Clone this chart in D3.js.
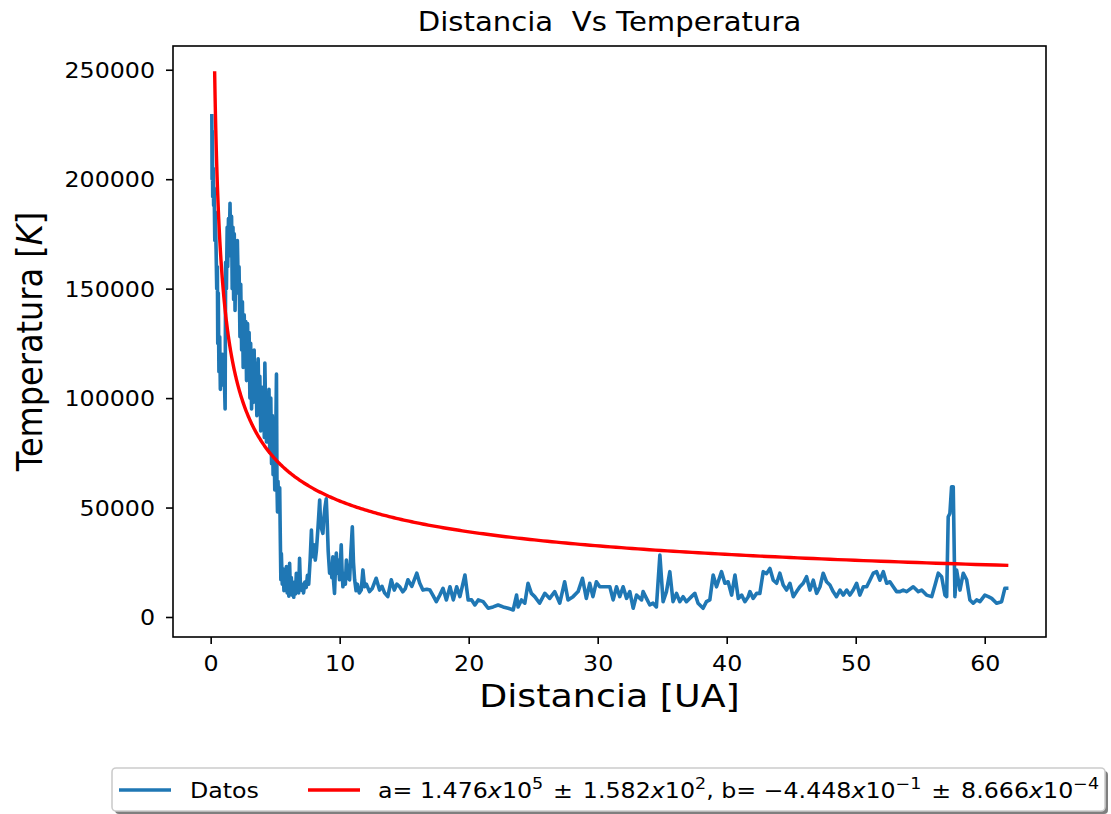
<!DOCTYPE html>
<html>
<head>
<meta charset="UTF-8">
<title>Distancia Vs Temperatura</title>
<script src="https://d3js.org/d3.v7.min.js"></script>
<style>
  body { margin: 0; background: #fff; }
  text { font-family: "DejaVu Sans", sans-serif; fill: #000; white-space: pre; }
</style>
</head>
<body>
<div id="chart"></div>
<script>
// distance [UA] and temperature [K]
var distUA = [
  0.09,0.11,0.13,0.16,0.20,0.23,0.27,0.32,0.36,0.42,0.47,0.52,0.55,0.59,0.64,0.70,0.75,0.80,0.86,0.92,
  0.98,1.05,1.12,1.16,1.22,1.28,1.32,1.38,1.44,1.50,1.56,1.62,1.67,1.73,1.78,1.83,1.89,1.95,2.01,2.07,
  2.14,2.20,2.27,2.33,2.40,2.46,2.52,2.60,2.66,2.72,2.78,2.86,2.92,2.98,3.04,3.10,3.17,3.24,3.30,3.37,
  3.42,3.50,3.58,3.68,3.74,3.81,3.88,3.95,4.02,4.10,4.16,4.20,4.26,4.33,4.40,4.46,4.52,4.58,4.66,4.72,
  4.78,4.84,4.90,4.97,5.04,5.10,5.14,5.18,5.22,5.28,5.35,5.40,5.44,5.48,5.55,5.61,5.68,5.75,5.81,5.87,
  5.93,5.99,6.06,6.12,6.18,6.25,6.32,6.38,6.44,6.50,6.57,6.64,6.70,6.76,6.82,6.89,6.96,7.03,7.10,7.20,
  7.30,7.41,7.50,7.60,7.71,7.81,7.87,7.93,8.01,8.11,8.19,8.31,8.45,8.51,8.61,8.70,8.77,8.86,8.96,9.03,
  9.11,9.22,9.31,9.39,9.47,9.53,9.60,9.67,9.74,9.81,9.89,9.99,10.06,10.12,10.18,10.25,10.37,10.44,10.52,10.62,
  10.77,10.87,10.98,11.07,11.16,11.27,11.37,11.52,11.67,11.80,11.93,12.07,12.31,12.52,12.83,13.09,13.28,13.48,13.73,14.00,
  14.23,14.43,14.65,14.89,15.09,15.29,15.59,15.98,16.20,16.45,16.75,17.00,17.22,17.49,17.76,18.01,18.27,18.55,18.81,19.07,
  19.32,19.71,19.96,20.23,20.48,20.74,21.12,21.51,21.89,22.28,22.67,23.06,23.45,23.71,23.83,24.09,24.35,24.60,24.86,25.12,
  25.50,25.90,26.28,26.67,27.06,27.44,27.70,28.09,28.48,28.82,29.12,29.38,29.63,29.90,30.16,30.94,31.20,31.46,31.71,31.97,
  32.24,32.49,32.75,33.01,33.40,33.52,33.78,34.04,34.29,34.55,34.82,35.07,35.33,35.59,35.84,36.11,36.36,36.62,36.88,37.27,
  37.53,37.78,38.17,38.43,38.69,38.95,39.21,39.60,39.86,40.11,40.38,40.64,40.90,41.16,41.41,41.67,41.80,42.05,42.32,42.57,
  42.83,43.09,43.35,43.61,43.87,44.12,44.38,44.64,44.90,45.16,45.42,45.67,45.93,46.19,46.45,46.71,46.97,47.23,47.48,47.74,
  48.00,48.25,48.51,48.78,49.03,49.30,49.55,49.81,50.07,50.32,50.59,50.85,51.10,51.36,51.62,51.87,52.14,52.40,52.65,52.91,
  53.17,53.43,53.68,53.95,54.46,54.85,55.11,55.49,55.89,56.15,56.40,56.66,56.92,57.05,57.17,57.30,57.43,57.56,57.69,57.82,
  58.08,58.34,58.60,58.85,59.11,59.37,59.63,60.01,60.28,60.54,60.92,61.31,61.56,61.70
];
var tempK = [
  229000,200000,222000,192000,205000,188000,196000,172000,185000,168000,150000,160000,125000,148000,112000,128000,104000,118000,108000,120000,
  106000,112000,95000,162000,150000,178000,160000,182000,170000,189000,165000,183000,150000,178000,145000,175000,140000,168000,148000,172000,
  150000,160000,128000,152000,122000,144000,114000,138000,118000,135000,108000,134000,112000,130000,100000,125000,95000,120000,98000,122000,
  102000,116000,92000,118000,96000,110000,85000,105000,88000,100000,82000,116000,95000,80000,100000,86000,104000,75000,100000,70000,
  92000,65000,85000,58000,80000,111000,60000,48000,62000,50000,59000,35000,17000,29000,15000,22000,12000,20000,14000,23000,
  11000,15000,9500,24500,12000,18000,10000,14000,9000,16000,10500,20000,12000,17000,11000,26800,14000,12300,15000,11000,
  16000,13500,19000,15000,26000,39700,30000,27500,33000,26000,30000,40000,53400,44000,40000,38200,45000,50000,54000,44000,
  30000,20000,24000,18000,27500,16000,10800,22000,29200,20000,26000,17000,25000,33000,22000,13800,20000,15000,26000,18000,
  17000,30000,41200,25000,17000,12000,15000,11000,12300,21500,13800,15000,11600,13000,17700,12300,14000,11000,9300,17000,
  12300,15000,13800,11500,13000,17000,14000,20000,15500,12300,12700,12300,10000,7000,10000,13100,7800,13800,7800,13800,
  9300,19200,7800,7800,5500,7800,7000,4000,4600,5500,4600,4000,3200,10000,4600,7800,6300,15400,10800,9300,
  6300,10800,8500,11600,6300,16100,7800,9300,11600,17700,8500,15400,9300,16100,13800,13800,7800,13800,9300,13800,
  8500,11600,4000,10000,7800,11600,8500,5500,6300,4600,28300,7000,11600,20700,7000,10800,7000,9300,7000,9300,
  10800,6300,4000,7000,7800,19200,13800,20700,15400,16100,10000,19200,8500,10000,7000,9300,11600,8500,10800,10800,
  20700,19800,22200,16800,15400,20000,14600,12300,15400,9300,11600,13800,15400,18400,12300,16800,10800,13800,20000,16100,
  14600,11600,9300,12300,10000,12300,10000,12300,15400,10000,13800,13800,16800,20000,20700,16800,20700,15400,16100,13800,
  11600,11600,12300,11600,13800,11600,12300,10000,9300,14600,20000,18400,10000,9300,45800,47300,59500,59500,9300,21500,
  12300,20000,17000,7800,6300,7800,7000,10000,9300,8500,6300,7000,13100,13100
];

// power-law fit T = a * d^b (values from the legend)
var fitA = 1.476e5, fitB = -4.448e-1;
var fitRange = [0.31, 61.70];

var xTicks = [0, 10, 20, 30, 40, 50, 60];
var yTicks = [0, 50000, 100000, 150000, 200000, 250000];

var legendParts = [
  ["a= 1.476", "n"], ["x", "i"], ["10", "n"], ["5", "s"], [" \u200a\u00b1\u200a 1.582", "n"], ["x", "i"], ["10", "n"], ["2", "s"],
  [", b= \u22124.448", "n"], ["x", "i"], ["10", "n"], ["\u22121", "s"], [" \u200a\u00b1\u200a 8.666", "n"], ["x", "i"], ["10", "n"], ["\u22124", "s"]
];

var W = 1111, H = 814, sx = 1.13;
var box = {left: 173, right: 1046, top: 46, bottom: 637};

var svg = d3.select("#chart").append("svg")
    .attr("width", W).attr("height", H);
svg.append("rect").attr("width", W).attr("height", H).attr("fill", "#fff");

var x = d3.scaleLinear().domain([-2.92, 64.75]).range([box.left, box.right]);
var y = d3.scaleLinear().domain([-9140, 260850]).range([box.bottom, box.top]);

function stretchText(g, px, py) {
    return g.append("text").attr("transform", `translate(${px},${py}) scale(${sx},1)`);
}

// data line
var pts = distUA.map(function(d, i) { return [d, tempK[i]]; });
var line = d3.line().x(d => x(d[0])).y(d => y(d[1]));
svg.append("path")
    .datum(pts)
    .attr("d", line)
    .attr("fill", "none")
    .attr("stroke", "#1f77b4")
    .attr("stroke-width", 3.6)
    .attr("stroke-linejoin", "round")
    .attr("stroke-linecap", "square");

// fit curve
var fitX = d3.range(0, 401).map(i => fitRange[0] * Math.pow(fitRange[1] / fitRange[0], i / 400));
svg.append("path")
    .datum(fitX.map(d => [d, fitA * Math.pow(d, fitB)]))
    .attr("d", line)
    .attr("fill", "none")
    .attr("stroke", "red")
    .attr("stroke-width", 3.4)
    .attr("stroke-linecap", "square");

// axes
var xAxis = svg.append("g")
    .attr("transform", `translate(0,${box.bottom})`)
    .call(d3.axisBottom(x).tickValues(xTicks).tickSizeOuter(0).tickSize(7).tickFormat(d3.format("d")));
xAxis.select(".domain").remove();
xAxis.selectAll(".tick line").attr("stroke", "#000").attr("stroke-width", 1.6);
xAxis.selectAll(".tick text")
    .attr("y", 19).attr("dy", "0.71em")
    .attr("transform", `scale(${sx},1)`)
    .style("font-size", "21px");

var yAxis = svg.append("g")
    .attr("transform", `translate(${box.left},0)`)
    .call(d3.axisLeft(y).tickValues(yTicks).tickSizeOuter(0).tickSize(7).tickFormat(d3.format("d")));
yAxis.select(".domain").remove();
yAxis.selectAll(".tick line").attr("stroke", "#000").attr("stroke-width", 1.6);
yAxis.selectAll(".tick text")
    .attr("x", -18 / sx).attr("dy", "0.36em")
    .attr("transform", `scale(${sx},1)`)
    .style("font-size", "21px");

svg.append("rect")
    .attr("x", box.left).attr("y", box.top)
    .attr("width", box.right - box.left).attr("height", box.bottom - box.top)
    .attr("fill", "none").attr("stroke", "#000").attr("stroke-width", 1.6);

// titles
stretchText(svg, (box.left + box.right) / 2, 31)
    .attr("text-anchor", "middle").style("font-size", "25.8px")
    .text("Distancia  Vs Temperatura");
stretchText(svg, (box.left + box.right) / 2, 707)
    .attr("text-anchor", "middle").style("font-size", "32.2px")
    .text("Distancia [UA]");
var yl = svg.append("text")
    .attr("transform", `translate(42,${(box.top + box.bottom) / 2}) scale(${sx},1) rotate(-90)`)
    .attr("text-anchor", "middle").style("font-size", "32px");
yl.append("tspan").text("Temperatura [");
yl.append("tspan").style("font-style", "italic").text("K");
yl.append("tspan").text("]");

// legend
var lg = svg.append("g");
lg.append("rect")
    .attr("x", 115).attr("y", 771).attr("width", 993).attr("height", 43).attr("rx", 4)
    .attr("fill", "#000").attr("opacity", 0.5);
lg.append("rect")
    .attr("x", 112).attr("y", 768).attr("width", 993).attr("height", 43).attr("rx", 4)
    .attr("fill", "#fff").attr("stroke", "#cccccc").attr("stroke-width", 1.6);
lg.append("line").attr("x1", 119).attr("x2", 171).attr("y1", 790).attr("y2", 790)
    .attr("stroke", "#1f77b4").attr("stroke-width", 3.4);
stretchText(lg, 190, 798).style("font-size", "21px").text("Datos");
lg.append("line").attr("x1", 308).attr("x2", 360).attr("y1", 790).attr("y2", 790)
    .attr("stroke", "red").attr("stroke-width", 3.4);
var lt = stretchText(lg, 378, 798).style("font-size", "21px");
var up = false;
legendParts.forEach(function(p) {
    var t = lt.append("tspan").text(p[0]);
    if (p[1] === "i") t.style("font-style", "italic");
    if (p[1] === "s") {
        t.style("font-size", "15.5px").attr("dy", -9);
        up = true;
    } else if (up) {
        t.attr("dy", 9);
        up = false;
    }
});
</script>
</body>
</html>
